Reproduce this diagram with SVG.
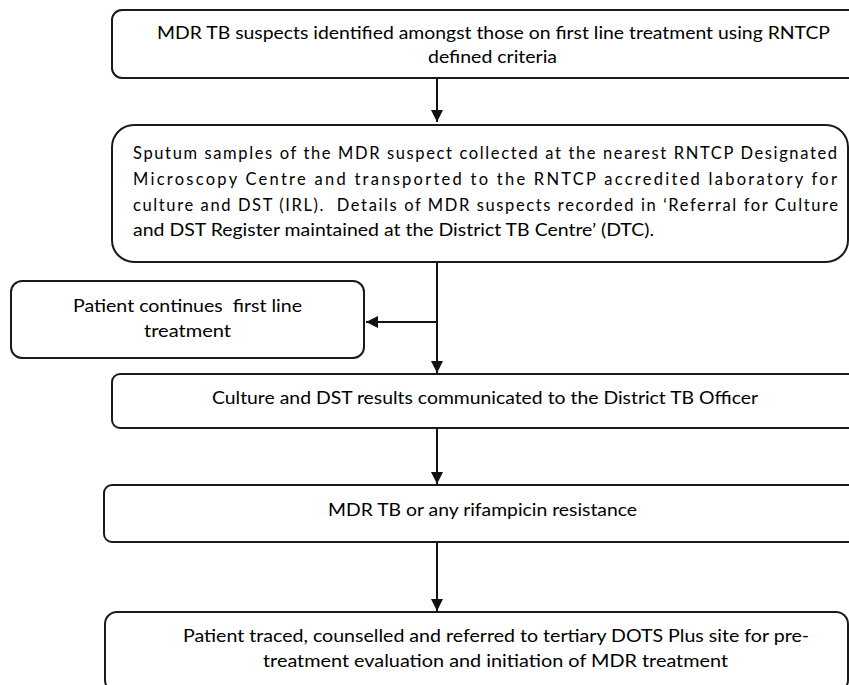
<svg xmlns="http://www.w3.org/2000/svg" width="849" height="685" viewBox="0 0 849 685">
<defs>
<style>
.box{fill:#fff;stroke:#1a1a1a;stroke-width:2}
.t{font-family:Lato,"Open Sans","Liberation Sans",sans-serif;font-size:16.5px;fill:#000}
.c{stroke:#111;stroke-width:2;fill:none}
</style>
<marker id="ah" markerUnits="userSpaceOnUse" markerWidth="14" markerHeight="14" refX="12" refY="6" orient="auto">
<path d="M0,0 L12,6 L0,12 Z" fill="#111"/>
</marker>
</defs>
<rect width="849" height="685" fill="#fff"/>
<g id="connectors">
<line class="c" x1="437" y1="78" x2="437" y2="122" marker-end="url(#ah)"/>
<line class="c" x1="437" y1="238" x2="437" y2="373" marker-end="url(#ah)"/>
<line class="c" x1="437" y1="322" x2="366" y2="322" marker-end="url(#ah)"/>
<line class="c" x1="437" y1="428" x2="437" y2="484" marker-end="url(#ah)"/>
<line class="c" x1="437" y1="542" x2="437" y2="611" marker-end="url(#ah)"/>
</g>
<g id="n1">
<rect class="box" x="112" y="10" width="770" height="68" rx="10"/>
<text class="t" x="157" y="39" textLength="673" lengthAdjust="spacingAndGlyphs">MDR TB suspects identified amongst those on first line treatment using RNTCP</text>
<text class="t" x="428" y="63" textLength="129" lengthAdjust="spacingAndGlyphs">defined criteria</text>
</g>
<g id="n2">
<rect class="box" x="112" y="125" width="736" height="137" rx="22"/>
<text class="t" x="133" y="159" textLength="704" lengthAdjust="spacing">Sputum samples of the MDR suspect collected at the nearest RNTCP Designated</text>
<text class="t" x="133" y="185" textLength="704" lengthAdjust="spacing">Microscopy Centre and transported to the RNTCP accredited laboratory for</text>
<text class="t" x="133" y="211" textLength="705" lengthAdjust="spacing" xml:space="preserve">culture and DST (IRL).  Details of MDR suspects recorded in ‘Referral for Culture</text>
<text class="t" x="133" y="236" textLength="521" lengthAdjust="spacingAndGlyphs">and DST Register maintained at the District TB Centre’ (DTC).</text>
</g>
<g id="n3">
<rect class="box" x="11" y="281" width="353" height="77" rx="11"/>
<text class="t" x="73" y="312" textLength="229" lengthAdjust="spacingAndGlyphs" xml:space="preserve">Patient continues  first line</text>
<text class="t" x="144" y="337" textLength="87" lengthAdjust="spacingAndGlyphs">treatment</text>
</g>
<g id="n4">
<rect class="box" x="112" y="374" width="770" height="54" rx="8"/>
<text class="t" x="212" y="404" textLength="546" lengthAdjust="spacingAndGlyphs">Culture and DST results communicated to the District TB Officer</text>
</g>
<g id="n5">
<rect class="box" x="104" y="485" width="778" height="57" rx="8"/>
<text class="t" x="328" y="516" textLength="309" lengthAdjust="spacingAndGlyphs">MDR TB or any rifampicin resistance</text>
</g>
<g id="n6">
<rect class="box" x="105" y="612" width="743" height="80" rx="12"/>
<text class="t" x="183" y="642" textLength="626" lengthAdjust="spacingAndGlyphs">Patient traced, counselled and referred to tertiary DOTS Plus site for pre-</text>
<text class="t" x="263" y="667" textLength="465" lengthAdjust="spacingAndGlyphs">treatment evaluation and initiation of MDR treatment</text>
</g>
</svg>
